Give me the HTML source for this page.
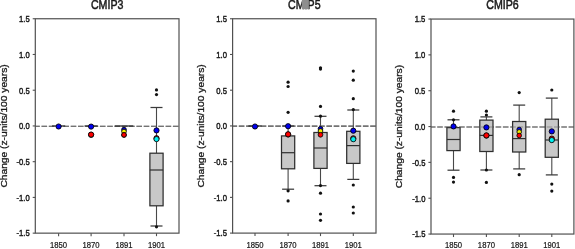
<!DOCTYPE html>
<html><head><meta charset="utf-8"><style>
html,body{margin:0;padding:0;background:#fff;}
body{width:575px;height:249px;overflow:hidden;}
svg{display:block;font-family:"Liberation Sans", sans-serif;will-change:transform;filter:blur(0.45px);}
</style></head><body>
<svg width="575" height="249" viewBox="0 0 575 249">
<rect x="0" y="0" width="575" height="249" fill="#ffffff"/>
<line x1="35.3" y1="126.20" x2="179.0" y2="126.20" stroke="#5c5c5c" stroke-width="1.1" stroke-dasharray="5.6 1.7" stroke-dashoffset="1.1"/>
<line x1="156.5" y1="107.5" x2="156.5" y2="153.2" stroke="#484848" stroke-width="1.1"/>
<line x1="156.5" y1="205.8" x2="156.5" y2="226.0" stroke="#484848" stroke-width="1.1"/>
<rect x="149.90" y="153.2" width="13.2" height="52.60" fill="#c8c8c8" stroke="#2e2e2e" stroke-width="1.25"/>
<line x1="35.3" y1="126.20" x2="179.0" y2="126.20" stroke="#5c5c5c" stroke-opacity="0.55" stroke-width="1.1" stroke-dasharray="5.6 1.7" stroke-dashoffset="1.1"/>
<line x1="52.00" y1="126.0" x2="65.20" y2="126.0" stroke="#2e2e2e" stroke-width="1.3"/>
<circle cx="58.6" cy="126.5" r="2.6" fill="#0000f0" stroke="#000" stroke-width="0.85"/>
<line x1="84.50" y1="126.0" x2="97.70" y2="126.0" stroke="#2e2e2e" stroke-width="1.3"/>
<circle cx="91.1" cy="126.6" r="2.6" fill="#0000f0" stroke="#000" stroke-width="0.85"/>
<circle cx="91.1" cy="134.8" r="2.6" fill="#00f0f0" stroke="#000" stroke-width="0.85"/>
<circle cx="91.1" cy="134.6" r="2.6" fill="#ff0000" stroke="#000" stroke-width="0.85"/>
<line x1="114.75" y1="126.0" x2="133.25" y2="126.0" stroke="#2e2e2e" stroke-width="1.3"/>
<circle cx="124.0" cy="129.6" r="2.35" fill="#0000f0" stroke="#000" stroke-width="0.85"/>
<circle cx="124.0" cy="131.5" r="2.35" fill="#f0f000" stroke="#000" stroke-width="0.85"/>
<circle cx="124.0" cy="135.0" r="2.35" fill="#00f0f0" stroke="#000" stroke-width="0.85"/>
<circle cx="124.0" cy="134.9" r="2.35" fill="#ff0000" stroke="#000" stroke-width="0.85"/>
<line x1="150.50" y1="107.5" x2="162.50" y2="107.5" stroke="#3a3a3a" stroke-width="1.25"/>
<line x1="150.50" y1="226.0" x2="162.50" y2="226.0" stroke="#3a3a3a" stroke-width="1.25"/>
<line x1="149.90" y1="170.0" x2="163.10" y2="170.0" stroke="#2e2e2e" stroke-width="1.2"/>
<circle cx="156.5" cy="89.9" r="1.6" fill="#111"/>
<circle cx="156.5" cy="94.6" r="1.6" fill="#111"/>
<circle cx="156.5" cy="226.8" r="1.6" fill="#111"/>
<circle cx="156.5" cy="130.4" r="2.6" fill="#0000f0" stroke="#000" stroke-width="0.85"/>
<circle cx="156.5" cy="138.2" r="2.6" fill="#ff0000" stroke="#000" stroke-width="0.85"/>
<circle cx="156.5" cy="139.1" r="2.6" fill="#00f0f0" stroke="#000" stroke-width="0.85"/>
<rect x="35.3" y="18.75" width="143.70" height="214.40" fill="none" stroke="#505050" stroke-width="1.2"/>
<line x1="32.70" y1="18.75" x2="35.3" y2="18.75" stroke="#505050" stroke-width="1.1"/>
<text transform="translate(29.70,22.05) scale(0.96,1.15)" font-size="8.0" stroke="#1a1a1a" stroke-width="0.38" text-anchor="end" fill="#1a1a1a">1.5</text>
<line x1="32.70" y1="54.48" x2="35.3" y2="54.48" stroke="#505050" stroke-width="1.1"/>
<text transform="translate(29.70,57.78) scale(0.96,1.15)" font-size="8.0" stroke="#1a1a1a" stroke-width="0.38" text-anchor="end" fill="#1a1a1a">1.0</text>
<line x1="32.70" y1="90.22" x2="35.3" y2="90.22" stroke="#505050" stroke-width="1.1"/>
<text transform="translate(29.70,93.52) scale(0.96,1.15)" font-size="8.0" stroke="#1a1a1a" stroke-width="0.38" text-anchor="end" fill="#1a1a1a">0.5</text>
<line x1="32.70" y1="125.95" x2="35.3" y2="125.95" stroke="#505050" stroke-width="1.1"/>
<text transform="translate(29.70,129.25) scale(0.96,1.15)" font-size="8.0" stroke="#1a1a1a" stroke-width="0.38" text-anchor="end" fill="#1a1a1a">0.0</text>
<line x1="32.70" y1="161.68" x2="35.3" y2="161.68" stroke="#505050" stroke-width="1.1"/>
<text transform="translate(29.70,164.98) scale(0.96,1.15)" font-size="8.0" stroke="#1a1a1a" stroke-width="0.38" text-anchor="end" fill="#1a1a1a">-0.5</text>
<line x1="32.70" y1="197.42" x2="35.3" y2="197.42" stroke="#505050" stroke-width="1.1"/>
<text transform="translate(29.70,200.72) scale(0.96,1.15)" font-size="8.0" stroke="#1a1a1a" stroke-width="0.38" text-anchor="end" fill="#1a1a1a">-1.0</text>
<line x1="32.70" y1="233.15" x2="35.3" y2="233.15" stroke="#505050" stroke-width="1.1"/>
<text transform="translate(29.70,236.45) scale(0.96,1.15)" font-size="8.0" stroke="#1a1a1a" stroke-width="0.38" text-anchor="end" fill="#1a1a1a">-1.5</text>
<line x1="58.6" y1="233.15" x2="58.6" y2="236.15" stroke="#505050" stroke-width="1.1"/>
<text transform="translate(58.6,248.4) scale(0.96,1.22)" font-size="8.0" stroke="#1a1a1a" stroke-width="0.2" text-anchor="middle" fill="#1a1a1a">1850</text>
<line x1="91.1" y1="233.15" x2="91.1" y2="236.15" stroke="#505050" stroke-width="1.1"/>
<text transform="translate(91.1,248.4) scale(0.96,1.22)" font-size="8.0" stroke="#1a1a1a" stroke-width="0.2" text-anchor="middle" fill="#1a1a1a">1870</text>
<line x1="124.0" y1="233.15" x2="124.0" y2="236.15" stroke="#505050" stroke-width="1.1"/>
<text transform="translate(124.0,248.4) scale(0.96,1.22)" font-size="8.0" stroke="#1a1a1a" stroke-width="0.2" text-anchor="middle" fill="#1a1a1a">1891</text>
<line x1="156.5" y1="233.15" x2="156.5" y2="236.15" stroke="#505050" stroke-width="1.1"/>
<text transform="translate(156.5,248.4) scale(0.96,1.22)" font-size="8.0" stroke="#1a1a1a" stroke-width="0.2" text-anchor="middle" fill="#1a1a1a">1901</text>
<text transform="translate(107.15,8.95) scale(0.95,1.16)" font-size="11.2" stroke="#1a1a1a" stroke-width="0.45" text-anchor="middle" fill="#1a1a1a">CMIP3</text>
<text transform="translate(6.80,125.95) rotate(-90) scale(1.125,1)" x="0" y="0" font-size="9.1" stroke="#1a1a1a" stroke-width="0.28" text-anchor="middle" fill="#1a1a1a">Change (z-units/100 years)</text>
<line x1="232.6" y1="126.17" x2="376.0" y2="126.17" stroke="#5c5c5c" stroke-width="1.1" stroke-dasharray="5.6 1.7" stroke-dashoffset="1.1"/>
<line x1="288.1" y1="126.0" x2="288.1" y2="135.9" stroke="#484848" stroke-width="1.1"/>
<line x1="288.1" y1="168.8" x2="288.1" y2="189.2" stroke="#484848" stroke-width="1.1"/>
<rect x="281.50" y="135.9" width="13.2" height="32.90" fill="#c8c8c8" stroke="#2e2e2e" stroke-width="1.25"/>
<line x1="320.5" y1="116.3" x2="320.5" y2="132.5" stroke="#484848" stroke-width="1.1"/>
<line x1="320.5" y1="168.4" x2="320.5" y2="185.7" stroke="#484848" stroke-width="1.1"/>
<rect x="313.90" y="132.5" width="13.2" height="35.90" fill="#c8c8c8" stroke="#2e2e2e" stroke-width="1.25"/>
<line x1="353.3" y1="110.0" x2="353.3" y2="131.3" stroke="#484848" stroke-width="1.1"/>
<line x1="353.3" y1="163.4" x2="353.3" y2="179.4" stroke="#484848" stroke-width="1.1"/>
<rect x="346.70" y="131.3" width="13.2" height="32.10" fill="#c8c8c8" stroke="#2e2e2e" stroke-width="1.25"/>
<line x1="232.6" y1="126.17" x2="376.0" y2="126.17" stroke="#5c5c5c" stroke-opacity="0.55" stroke-width="1.1" stroke-dasharray="5.6 1.7" stroke-dashoffset="1.1"/>
<line x1="248.40" y1="126.0" x2="261.60" y2="126.0" stroke="#2e2e2e" stroke-width="1.3"/>
<circle cx="255.0" cy="126.5" r="2.6" fill="#0000f0" stroke="#000" stroke-width="0.85"/>
<line x1="282.10" y1="126.0" x2="294.10" y2="126.0" stroke="#3a3a3a" stroke-width="1.25"/>
<line x1="282.10" y1="189.2" x2="294.10" y2="189.2" stroke="#3a3a3a" stroke-width="1.25"/>
<line x1="281.50" y1="152.7" x2="294.70" y2="152.7" stroke="#2e2e2e" stroke-width="1.2"/>
<circle cx="288.1" cy="82.2" r="1.6" fill="#111"/>
<circle cx="288.1" cy="86.5" r="1.6" fill="#111"/>
<circle cx="288.1" cy="112.3" r="1.6" fill="#111"/>
<circle cx="288.1" cy="190.8" r="1.6" fill="#111"/>
<circle cx="288.1" cy="200.9" r="1.6" fill="#111"/>
<circle cx="288.1" cy="126.2" r="2.6" fill="#0000f0" stroke="#000" stroke-width="0.85"/>
<circle cx="288.1" cy="134.5" r="2.6" fill="#00f0f0" stroke="#000" stroke-width="0.85"/>
<circle cx="288.1" cy="134.3" r="2.6" fill="#ff0000" stroke="#000" stroke-width="0.85"/>
<line x1="314.50" y1="116.3" x2="326.50" y2="116.3" stroke="#3a3a3a" stroke-width="1.25"/>
<line x1="314.50" y1="185.7" x2="326.50" y2="185.7" stroke="#3a3a3a" stroke-width="1.25"/>
<line x1="313.90" y1="148.0" x2="327.10" y2="148.0" stroke="#2e2e2e" stroke-width="1.2"/>
<circle cx="320.5" cy="67.8" r="1.6" fill="#111"/>
<circle cx="320.5" cy="69.1" r="1.6" fill="#111"/>
<circle cx="320.5" cy="106.4" r="1.6" fill="#111"/>
<circle cx="320.5" cy="116.2" r="1.6" fill="#111"/>
<circle cx="320.5" cy="185.6" r="1.6" fill="#111"/>
<circle cx="320.5" cy="193.2" r="1.6" fill="#111"/>
<circle cx="320.5" cy="214.0" r="1.6" fill="#111"/>
<circle cx="320.5" cy="220.3" r="1.6" fill="#111"/>
<circle cx="320.5" cy="128.8" r="2.35" fill="#0000f0" stroke="#000" stroke-width="0.85"/>
<circle cx="320.5" cy="131.0" r="2.35" fill="#f0f000" stroke="#000" stroke-width="0.85"/>
<circle cx="320.5" cy="134.8" r="2.35" fill="#ff0000" stroke="#000" stroke-width="0.85"/>
<line x1="347.30" y1="110.0" x2="359.30" y2="110.0" stroke="#3a3a3a" stroke-width="1.25"/>
<line x1="347.30" y1="179.4" x2="359.30" y2="179.4" stroke="#3a3a3a" stroke-width="1.25"/>
<line x1="346.70" y1="145.6" x2="359.90" y2="145.6" stroke="#2e2e2e" stroke-width="1.2"/>
<circle cx="353.3" cy="71.1" r="1.6" fill="#111"/>
<circle cx="353.3" cy="80.2" r="1.6" fill="#111"/>
<circle cx="353.3" cy="98.7" r="1.6" fill="#111"/>
<circle cx="353.3" cy="109.6" r="1.6" fill="#111"/>
<circle cx="353.3" cy="185.0" r="1.6" fill="#111"/>
<circle cx="353.3" cy="207.0" r="1.6" fill="#111"/>
<circle cx="353.3" cy="213.0" r="1.6" fill="#111"/>
<circle cx="353.3" cy="130.7" r="2.6" fill="#0000f0" stroke="#000" stroke-width="0.85"/>
<circle cx="353.3" cy="138.3" r="2.6" fill="#ff0000" stroke="#000" stroke-width="0.85"/>
<circle cx="353.3" cy="139.2" r="2.6" fill="#00f0f0" stroke="#000" stroke-width="0.85"/>
<rect x="232.6" y="18.75" width="143.40" height="214.35" fill="none" stroke="#505050" stroke-width="1.2"/>
<line x1="230.00" y1="18.75" x2="232.6" y2="18.75" stroke="#505050" stroke-width="1.1"/>
<text transform="translate(227.00,22.05) scale(0.96,1.15)" font-size="8.0" stroke="#1a1a1a" stroke-width="0.38" text-anchor="end" fill="#1a1a1a">1.5</text>
<line x1="230.00" y1="54.48" x2="232.6" y2="54.48" stroke="#505050" stroke-width="1.1"/>
<text transform="translate(227.00,57.77) scale(0.96,1.15)" font-size="8.0" stroke="#1a1a1a" stroke-width="0.38" text-anchor="end" fill="#1a1a1a">1.0</text>
<line x1="230.00" y1="90.20" x2="232.6" y2="90.20" stroke="#505050" stroke-width="1.1"/>
<text transform="translate(227.00,93.50) scale(0.96,1.15)" font-size="8.0" stroke="#1a1a1a" stroke-width="0.38" text-anchor="end" fill="#1a1a1a">0.5</text>
<line x1="230.00" y1="125.93" x2="232.6" y2="125.93" stroke="#505050" stroke-width="1.1"/>
<text transform="translate(227.00,129.23) scale(0.96,1.15)" font-size="8.0" stroke="#1a1a1a" stroke-width="0.38" text-anchor="end" fill="#1a1a1a">0.0</text>
<line x1="230.00" y1="161.65" x2="232.6" y2="161.65" stroke="#505050" stroke-width="1.1"/>
<text transform="translate(227.00,164.95) scale(0.96,1.15)" font-size="8.0" stroke="#1a1a1a" stroke-width="0.38" text-anchor="end" fill="#1a1a1a">-0.5</text>
<line x1="230.00" y1="197.38" x2="232.6" y2="197.38" stroke="#505050" stroke-width="1.1"/>
<text transform="translate(227.00,200.68) scale(0.96,1.15)" font-size="8.0" stroke="#1a1a1a" stroke-width="0.38" text-anchor="end" fill="#1a1a1a">-1.0</text>
<line x1="230.00" y1="233.10" x2="232.6" y2="233.10" stroke="#505050" stroke-width="1.1"/>
<text transform="translate(227.00,236.40) scale(0.96,1.15)" font-size="8.0" stroke="#1a1a1a" stroke-width="0.38" text-anchor="end" fill="#1a1a1a">-1.5</text>
<line x1="255.0" y1="233.1" x2="255.0" y2="236.10" stroke="#505050" stroke-width="1.1"/>
<text transform="translate(255.0,248.4) scale(0.96,1.22)" font-size="8.0" stroke="#1a1a1a" stroke-width="0.2" text-anchor="middle" fill="#1a1a1a">1850</text>
<line x1="288.1" y1="233.1" x2="288.1" y2="236.10" stroke="#505050" stroke-width="1.1"/>
<text transform="translate(288.1,248.4) scale(0.96,1.22)" font-size="8.0" stroke="#1a1a1a" stroke-width="0.2" text-anchor="middle" fill="#1a1a1a">1870</text>
<line x1="320.5" y1="233.1" x2="320.5" y2="236.10" stroke="#505050" stroke-width="1.1"/>
<text transform="translate(320.5,248.4) scale(0.96,1.22)" font-size="8.0" stroke="#1a1a1a" stroke-width="0.2" text-anchor="middle" fill="#1a1a1a">1891</text>
<line x1="353.3" y1="233.1" x2="353.3" y2="236.10" stroke="#505050" stroke-width="1.1"/>
<text transform="translate(353.3,248.4) scale(0.96,1.22)" font-size="8.0" stroke="#1a1a1a" stroke-width="0.2" text-anchor="middle" fill="#1a1a1a">1901</text>
<text transform="translate(304.30,8.95) scale(0.95,1.16)" font-size="11.2" stroke="#1a1a1a" stroke-width="0.45" text-anchor="middle" fill="#1a1a1a">CMIP5</text>
<text transform="translate(203.60,125.92) rotate(-90) scale(1.125,1)" x="0" y="0" font-size="9.1" stroke="#1a1a1a" stroke-width="0.28" text-anchor="middle" fill="#1a1a1a">Change (z-units/100 years)</text>
<line x1="431.0" y1="127.00" x2="573.9" y2="127.00" stroke="#5c5c5c" stroke-width="1.1" stroke-dasharray="5.6 1.7" stroke-dashoffset="1.1"/>
<line x1="453.5" y1="119.8" x2="453.5" y2="127.6" stroke="#484848" stroke-width="1.1"/>
<line x1="453.5" y1="150.6" x2="453.5" y2="170.2" stroke="#484848" stroke-width="1.1"/>
<rect x="446.90" y="127.6" width="13.2" height="23.00" fill="#c8c8c8" stroke="#2e2e2e" stroke-width="1.25"/>
<line x1="486.4" y1="116.9" x2="486.4" y2="120.1" stroke="#484848" stroke-width="1.1"/>
<line x1="486.4" y1="151.5" x2="486.4" y2="170.0" stroke="#484848" stroke-width="1.1"/>
<rect x="479.80" y="120.1" width="13.2" height="31.40" fill="#c8c8c8" stroke="#2e2e2e" stroke-width="1.25"/>
<line x1="519.2" y1="105.1" x2="519.2" y2="121.5" stroke="#484848" stroke-width="1.1"/>
<line x1="519.2" y1="152.0" x2="519.2" y2="168.9" stroke="#484848" stroke-width="1.1"/>
<rect x="512.60" y="121.5" width="13.2" height="30.50" fill="#c8c8c8" stroke="#2e2e2e" stroke-width="1.25"/>
<line x1="551.8" y1="98.1" x2="551.8" y2="119.2" stroke="#484848" stroke-width="1.1"/>
<line x1="551.8" y1="157.3" x2="551.8" y2="174.9" stroke="#484848" stroke-width="1.1"/>
<rect x="545.20" y="119.2" width="13.2" height="38.10" fill="#c8c8c8" stroke="#2e2e2e" stroke-width="1.25"/>
<line x1="431.0" y1="127.00" x2="573.9" y2="127.00" stroke="#5c5c5c" stroke-opacity="0.55" stroke-width="1.1" stroke-dasharray="5.6 1.7" stroke-dashoffset="1.1"/>
<line x1="447.50" y1="119.8" x2="459.50" y2="119.8" stroke="#3a3a3a" stroke-width="1.25"/>
<line x1="447.50" y1="170.2" x2="459.50" y2="170.2" stroke="#3a3a3a" stroke-width="1.25"/>
<line x1="446.90" y1="139.5" x2="460.10" y2="139.5" stroke="#2e2e2e" stroke-width="1.2"/>
<circle cx="453.5" cy="111.2" r="1.6" fill="#111"/>
<circle cx="453.5" cy="119.8" r="1.6" fill="#111"/>
<circle cx="453.5" cy="177.4" r="1.6" fill="#111"/>
<circle cx="453.5" cy="182.1" r="1.6" fill="#111"/>
<circle cx="453.5" cy="126.4" r="2.6" fill="#0000f0" stroke="#000" stroke-width="0.85"/>
<line x1="480.40" y1="116.9" x2="492.40" y2="116.9" stroke="#3a3a3a" stroke-width="1.25"/>
<line x1="480.40" y1="170.0" x2="492.40" y2="170.0" stroke="#3a3a3a" stroke-width="1.25"/>
<line x1="479.80" y1="135.4" x2="493.00" y2="135.4" stroke="#2e2e2e" stroke-width="1.2"/>
<circle cx="486.4" cy="111.2" r="1.6" fill="#111"/>
<circle cx="486.4" cy="115.0" r="1.6" fill="#111"/>
<circle cx="486.4" cy="170.0" r="1.6" fill="#111"/>
<circle cx="486.4" cy="182.4" r="1.6" fill="#111"/>
<circle cx="486.4" cy="127.4" r="2.6" fill="#0000f0" stroke="#000" stroke-width="0.85"/>
<circle cx="486.4" cy="135.6" r="2.6" fill="#00f0f0" stroke="#000" stroke-width="0.85"/>
<circle cx="486.4" cy="135.4" r="2.6" fill="#ff0000" stroke="#000" stroke-width="0.85"/>
<line x1="513.20" y1="105.1" x2="525.20" y2="105.1" stroke="#3a3a3a" stroke-width="1.25"/>
<line x1="513.20" y1="168.9" x2="525.20" y2="168.9" stroke="#3a3a3a" stroke-width="1.25"/>
<line x1="512.60" y1="138.6" x2="525.80" y2="138.6" stroke="#2e2e2e" stroke-width="1.2"/>
<circle cx="519.2" cy="92.6" r="1.6" fill="#111"/>
<circle cx="519.2" cy="174.7" r="1.6" fill="#111"/>
<circle cx="519.2" cy="129.5" r="2.3" fill="#0000f0" stroke="#000" stroke-width="0.85"/>
<circle cx="519.2" cy="131.9" r="2.3" fill="#f0f000" stroke="#000" stroke-width="0.85"/>
<circle cx="519.2" cy="135.5" r="2.3" fill="#ff0000" stroke="#000" stroke-width="0.85"/>
<line x1="545.80" y1="98.1" x2="557.80" y2="98.1" stroke="#3a3a3a" stroke-width="1.25"/>
<line x1="545.80" y1="174.9" x2="557.80" y2="174.9" stroke="#3a3a3a" stroke-width="1.25"/>
<line x1="545.20" y1="140.0" x2="558.40" y2="140.0" stroke="#2e2e2e" stroke-width="1.2"/>
<circle cx="551.8" cy="90.0" r="1.6" fill="#111"/>
<circle cx="551.8" cy="184.1" r="1.6" fill="#111"/>
<circle cx="551.8" cy="191.1" r="1.6" fill="#111"/>
<circle cx="551.8" cy="131.4" r="2.6" fill="#0000f0" stroke="#000" stroke-width="0.85"/>
<circle cx="551.8" cy="138.6" r="2.6" fill="#ff0000" stroke="#000" stroke-width="0.85"/>
<circle cx="551.8" cy="140.1" r="2.6" fill="#00f0f0" stroke="#000" stroke-width="0.85"/>
<rect x="431.0" y="19.05" width="142.90" height="215.00" fill="none" stroke="#505050" stroke-width="1.2"/>
<line x1="428.40" y1="19.05" x2="431.0" y2="19.05" stroke="#505050" stroke-width="1.1"/>
<text transform="translate(425.40,22.35) scale(0.96,1.15)" font-size="8.0" stroke="#1a1a1a" stroke-width="0.38" text-anchor="end" fill="#1a1a1a">1.5</text>
<line x1="428.40" y1="54.88" x2="431.0" y2="54.88" stroke="#505050" stroke-width="1.1"/>
<text transform="translate(425.40,58.18) scale(0.96,1.15)" font-size="8.0" stroke="#1a1a1a" stroke-width="0.38" text-anchor="end" fill="#1a1a1a">1.0</text>
<line x1="428.40" y1="90.72" x2="431.0" y2="90.72" stroke="#505050" stroke-width="1.1"/>
<text transform="translate(425.40,94.02) scale(0.96,1.15)" font-size="8.0" stroke="#1a1a1a" stroke-width="0.38" text-anchor="end" fill="#1a1a1a">0.5</text>
<line x1="428.40" y1="126.55" x2="431.0" y2="126.55" stroke="#505050" stroke-width="1.1"/>
<text transform="translate(425.40,129.85) scale(0.96,1.15)" font-size="8.0" stroke="#1a1a1a" stroke-width="0.38" text-anchor="end" fill="#1a1a1a">0.0</text>
<line x1="428.40" y1="162.38" x2="431.0" y2="162.38" stroke="#505050" stroke-width="1.1"/>
<text transform="translate(425.40,165.68) scale(0.96,1.15)" font-size="8.0" stroke="#1a1a1a" stroke-width="0.38" text-anchor="end" fill="#1a1a1a">-0.5</text>
<line x1="428.40" y1="198.22" x2="431.0" y2="198.22" stroke="#505050" stroke-width="1.1"/>
<text transform="translate(425.40,201.52) scale(0.96,1.15)" font-size="8.0" stroke="#1a1a1a" stroke-width="0.38" text-anchor="end" fill="#1a1a1a">-1.0</text>
<line x1="428.40" y1="234.05" x2="431.0" y2="234.05" stroke="#505050" stroke-width="1.1"/>
<text transform="translate(425.40,237.35) scale(0.96,1.15)" font-size="8.0" stroke="#1a1a1a" stroke-width="0.38" text-anchor="end" fill="#1a1a1a">-1.5</text>
<line x1="453.5" y1="234.05" x2="453.5" y2="237.05" stroke="#505050" stroke-width="1.1"/>
<text transform="translate(453.5,248.4) scale(0.96,1.22)" font-size="8.0" stroke="#1a1a1a" stroke-width="0.2" text-anchor="middle" fill="#1a1a1a">1850</text>
<line x1="486.4" y1="234.05" x2="486.4" y2="237.05" stroke="#505050" stroke-width="1.1"/>
<text transform="translate(486.4,248.4) scale(0.96,1.22)" font-size="8.0" stroke="#1a1a1a" stroke-width="0.2" text-anchor="middle" fill="#1a1a1a">1870</text>
<line x1="519.2" y1="234.05" x2="519.2" y2="237.05" stroke="#505050" stroke-width="1.1"/>
<text transform="translate(519.2,248.4) scale(0.96,1.22)" font-size="8.0" stroke="#1a1a1a" stroke-width="0.2" text-anchor="middle" fill="#1a1a1a">1891</text>
<line x1="551.8" y1="234.05" x2="551.8" y2="237.05" stroke="#505050" stroke-width="1.1"/>
<text transform="translate(551.8,248.4) scale(0.96,1.22)" font-size="8.0" stroke="#1a1a1a" stroke-width="0.2" text-anchor="middle" fill="#1a1a1a">1901</text>
<text transform="translate(502.45,9.25) scale(0.95,1.16)" font-size="11.2" stroke="#1a1a1a" stroke-width="0.45" text-anchor="middle" fill="#1a1a1a">CMIP6</text>
<text transform="translate(401.50,126.55) rotate(-90) scale(1.125,1)" x="0" y="0" font-size="9.1" stroke="#1a1a1a" stroke-width="0.28" text-anchor="middle" fill="#1a1a1a">Change (z-units/100 years)</text>
<rect x="301.9" y="0" width="6.9" height="9.2" fill="#8e8e8e"/>
</svg>
</body></html>
